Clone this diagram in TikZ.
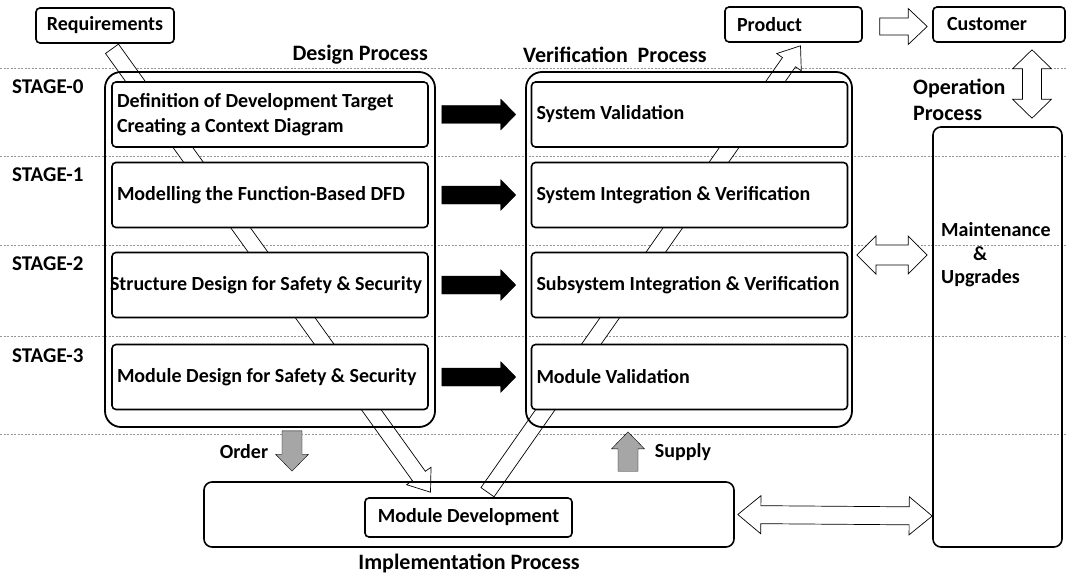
\documentclass[tikz,border=0pt]{standalone}
\usepackage{fontspec}
\setmainfont{Carlito}
\usetikzlibrary{calc,backgrounds}

\definecolor{lanegray}{RGB}{150,150,150}
\definecolor{flowgray}{RGB}{166,166,166}

% one line of box text, never broken
\newcommand\stepline[1]{\makebox[306pt][l]{#1}}
% hollow or filled arrow as a polygon: style, from, to, half shaft, half head, head length
\newcommand\bandarrow[6]{%
  \path ($(#3)!#6!(#2)$) coordinate (hb);
  \draw[#1] ($(#2)!#4!90:(#3)$) -- ($(hb)!#4!-90:(#2)$) -- ($(hb)!#5!-90:(#2)$) -- (#3)
    -- ($(hb)!#5!90:(#2)$) -- ($(hb)!#4!90:(#2)$) -- ($(#2)!#4!-90:(#3)$) -- cycle;}
% same with a head at both ends
\newcommand\dbandarrow[6]{%
  \path ($(#2)!#6!(#3)$) coordinate (ha) ($(#3)!#6!(#2)$) coordinate (hb);
  \draw[#1] (#2) -- ($(ha)!#5!90:(#3)$) -- ($(ha)!#4!90:(#3)$) -- ($(hb)!#4!-90:(#2)$)
    -- ($(hb)!#5!-90:(#2)$) -- (#3) -- ($(hb)!#5!90:(#2)$) -- ($(hb)!#4!90:(#2)$)
    -- ($(ha)!#4!-90:(#3)$) -- ($(ha)!#5!-90:(#3)$) -- cycle;}

\begin{document}
\begin{tikzpicture}[x=1pt,y=-1pt]
\tikzstyle{every node}=[font=\bfseries\fontsize{20}{25}\selectfont, inner sep=0pt]
\tikzstyle{biglabel}=[font=\bfseries\fontsize{22}{26}\selectfont]
\tikzstyle{stagelabel}=[font=\bfseries\fontsize{21}{25}\selectfont]
\tikzstyle{box}=[draw, line width=1.6pt, fill=white, rounded corners=4pt]
\tikzstyle{lane}=[draw, line width=1.8pt, rounded corners=16pt]
\tikzstyle{stepbox}=[box, minimum height=65pt, inner xsep=5pt, align=left]
\tikzstyle{band}=[draw, fill=white, line width=0.7pt]
\tikzstyle{solidflow}=[fill=black]
\tikzstyle{grayflow}=[fill=flowgray]
\useasboundingbox (0,0) rectangle (1068,575);

% stages
\foreach \y/\s in {87/0,175/1,264/2,356/3}
  \node (stage\s) [stagelabel, anchor=west] at (12,\y) {STAGE-\s};

\node (req) [box, minimum width=138pt, minimum height=35pt] at (105,25.5) {Requirements};
\node (product) [box, minimum height=35pt, text width=113pt, inner xsep=12pt, align=left] at (793.5,24.5) {Product};
\node (customer) [box, minimum height=35pt, text width=104pt, inner xsep=14pt, align=left] at (999,24.5) {Customer};

% design process
\node (designlbl) [biglabel, anchor=east] at (428,55) {Design Process};
\node (design) [lane, minimum width=330pt, minimum height=355pt] at (270,249.5) {};
\node (d0) [stepbox] at (270,114.5) {\stepline{Definition of Development Target}\\\stepline{Creating a Context Diagram}};
\node (d1) [stepbox] at (270,195) {\stepline{Modelling the Function-Based DFD}};
\node (d2) [stepbox] at (270,285) {\stepline{\hspace*{-7pt}Structure Design for Safety \& Security}};
\node (d3) [stepbox] at (270,377) {\stepline{Module Design for Safety \& Security}};

% verification process
\node (veriflbl) [biglabel, anchor=west] at (523,55) {Verification~ Process};
\node (verif) [lane, minimum width=326pt, minimum height=355pt] at (689,249.5) {};
\node (v0) [stepbox] at (689.5,114.5) {\stepline{System Validation}};
\node (v1) [stepbox] at (689.5,195) {\stepline{System Integration \& Verification}};
\node (v2) [stepbox] at (689.5,285) {\stepline{Subsystem Integration \& Verification}};
\node (v3) [stepbox] at (689.5,377) {\stepline{Module Validation}};

% implementation process
\node (impl) [box, fill=none, rounded corners=8pt, minimum width=530pt, minimum height=65pt] at (469,514.5) {};
\node (moddev) [box, minimum width=207pt, minimum height=39pt] at (468.5,517.5) {Module Development};
\node (impllbl) [biglabel] at (469,563) {Implementation Process};
\node (orderlbl) at (244,452) {Order};
\node (supplylbl) at (683,452) {Supply};

% operation process
\node (oplbl) [biglabel, anchor=west, align=left] at (913,100) {Operation\\Process};
\node (maint) [box, fill=none, rounded corners=8pt, minimum width=129pt, minimum height=420pt] at (997.5,337) {};
\node (mainttxt) [anchor=west, align=left, font=\bfseries\fontsize{20}{23.5}\selectfont] at (941,255) {Maintenance\\\hspace*{32pt}\&\\Upgrades};

\begin{scope}[on background layer]
\foreach \y in {68,156,245,336,434}
  \draw[lanegray, dash pattern=on 2pt off 1.5pt, line width=0.8pt] (0,\y) -- (1068,\y);
\coordinate (reqout) at ([xshift=7pt,yshift=-5pt]req.south);
\coordinate (devin) at ([xshift=-38pt,yshift=5pt]moddev.north);
\coordinate (devout) at ([xshift=19pt,yshift=5pt]moddev.north);
\coordinate (prodin) at ([xshift=7pt,yshift=-3pt]product.south);
\bandarrow{band}{reqout}{devin}{8pt}{15pt}{20pt}
\bandarrow{band}{devout}{prodin}{8pt}{15pt}{20pt}
\end{scope}

% design -> verification
\foreach \i in {0,...,3}{
  \coordinate (dout\i) at ([xshift=13pt]d\i.east);
  \coordinate (vin\i) at ([xshift=-15pt]v\i.west);
  \bandarrow{solidflow}{dout\i}{vin\i}{9pt}{15.5pt}{15pt}
}

% order and supply
\coordinate (ordtop) at ($(design.south)+(22,3)$);
\coordinate (ordtip) at ($(design.south |- impl.north)+(22,-10)$);
\bandarrow{grayflow}{ordtop}{ordtip}{10pt}{16.5pt}{17pt}
\coordinate (suptop) at ($(impl.north)+(159,-10)$);
\coordinate (suptip) at ($(verif.south)+(-61,4)$);
\bandarrow{grayflow}{suptop}{suptip}{10pt}{16.5pt}{17pt}

% product, customer, maintenance
\coordinate (prodout) at ([xshift=17pt,yshift=-2pt]product.east);
\coordinate (custin) at ([xshift=-5pt,yshift=-2pt]customer.west);
\bandarrow{band}{prodout}{custin}{8.5pt}{18pt}{19pt}
\coordinate (custout) at ([xshift=33pt,yshift=-7pt]customer.south);
\coordinate (maintin) at ([xshift=34.5pt,yshift=8pt]maint.north);
\dbandarrow{band}{custout}{maintin}{9.5pt}{19.5pt}{19pt}
\coordinate (verifout) at ([xshift=4pt,yshift=-5.5pt]verif.east);
\coordinate (maintv) at ($(verif.east -| maint.west)+(-5,5.5)$);
\dbandarrow{band}{verifout}{maintv}{10pt}{19pt}{19pt}
\coordinate (implout) at ([xshift=3pt]impl.east);
\coordinate (mainti) at ($(impl.east -| maint.west)+(0,1.5)$);
\dbandarrow{band}{implout}{mainti}{9pt}{19pt}{23pt}
\end{tikzpicture}
\end{document}
